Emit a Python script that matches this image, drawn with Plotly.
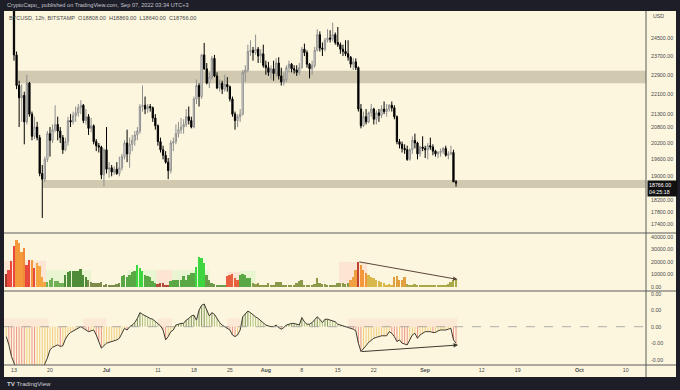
import plotly.graph_objects as go
import pandas as pd
import numpy as np

# ---------------- data (12h candles, BTCUSD Bitstamp) ----------------
# candle index i runs from -3 (2022-06-11 12:00) to 172 (2022-09-07 00:00)
first_candle = "2022-06-11 12:00"
n_candles = 176

opens = [
    28900, 28400, 27700,
    26600, 23750, 22450, 21950, 22050, 21000, 22550, 21300, 20450, 20800, 20400, 19100, 18900,
    19600, 20550, 20300, 20700, 20900, 20650, 20400, 19950, 20250, 21050, 21000, 21250, 21350,
    21550, 21650, 21050, 21200, 20750, 20850, 20250, 20100, 20050, 19050,
    19950, 19250, 19300, 19150, 19250, 19100, 19300, 19700, 20200, 19800,
    20150, 20300, 20500, 20650, 21600, 21650, 21500, 21600, 21550, 21150,
    20850, 20250, 19950, 19750, 19500, 19200, 20200, 20250, 20550, 20700,
    20800, 20900, 21200, 21050, 20800, 21900, 22450, 22000, 23750, 23150,
    22550, 22800, 23600, 22850, 22350, 22550, 22300, 22500, 22400, 21900,
    21300, 21050, 21200, 21300, 23000, 23100, 23900, 23950, 23850, 24000,
    23700, 23800, 23300, 23200, 23000, 23150, 22950, 23400, 22850, 22600,
    22700, 23200, 23350, 23150, 23100, 23000, 23200, 24000, 23850, 23350,
    23150, 23300, 23950, 24650, 24050, 24000, 24400, 24500, 24450, 24650,
    24300, 24200, 24000, 23900, 23800, 23650, 23350, 23450, 23200, 21500,
    20850, 21200, 21000, 21350, 21500, 21100, 21350, 21250, 21500, 21400,
    21500, 21650, 21550, 21200, 20250, 20150, 20000, 19950, 19600, 19950,
    20300, 20200, 19800, 20050, 20000, 19950, 20100, 20050, 19900, 19800,
    19850, 19900, 20000, 19750, 19800, 19850, 18808,
]
highs = [
    29000, 28550, 28000,
    26900, 23900, 22650, 22500, 22200, 22900, 22600, 21400, 21200, 21000, 20500, 19400, 19700,
    20650, 20800, 20900, 21650, 21200, 20800, 20500, 20400, 21200, 21300, 21400, 21600, 21700,
    21850, 21700, 21500, 21300, 21150, 20900, 20350, 20200, 20100, 20000,
    20800, 19500, 19400, 19350, 19500, 19700, 19800, 20300, 20700, 20400,
    20500, 20650, 20800, 21700, 22450, 22000, 21700, 21700, 21600, 21300,
    20900, 20400, 20100, 19900, 19650, 20300, 20400, 20900, 21000, 21150,
    21100, 21500, 21600, 21200, 22000, 22700, 22550, 23800, 24280, 23400,
    23000, 23700, 23750, 23000, 22700, 22650, 22900, 22800, 22450, 22000,
    21400, 21300, 21500, 23100, 23300, 24200, 24400, 24100, 24650, 24100,
    24000, 24200, 23500, 23450, 23300, 23500, 23600, 23650, 23200, 23000,
    23300, 23500, 23400, 23300, 23300, 23400, 24100, 24250, 23950, 23400,
    23500, 24100, 24900, 24800, 24300, 24500, 24900, 24850, 25200, 24750,
    25000, 24300, 24200, 24400, 24400, 23700, 23600, 23600, 23250, 21700,
    21400, 21500, 21400, 21700, 21550, 21450, 21500, 21650, 21800, 21700,
    21700, 21800, 21650, 21250, 20350, 20250, 20150, 20100, 20000, 20450,
    20550, 20250, 20100, 20450, 20100, 20200, 20400, 20150, 19950, 19900,
    20000, 20050, 20100, 19900, 20100, 19950, 18869,
]
lows = [
    28100, 27500, 26550,
    23500, 22300, 20800, 21000, 20150, 20900, 21200, 20300, 20350, 20300, 19000, 17600, 18800,
    19500, 19700, 20200, 20600, 20300, 20200, 19800, 19900, 20100, 20800, 20900, 21000, 21200,
    21300, 20950, 20900, 20500, 20600, 20150, 19900, 19850, 18900, 18650,
    19100, 18950, 19000, 19050, 19050, 19000, 19200, 19600, 19500, 19300,
    19900, 20100, 20300, 20550, 21400, 21300, 21350, 21400, 21000, 20700,
    20100, 19850, 19600, 19450, 18900, 19100, 19900, 20150, 20400, 20550,
    20550, 20800, 20900, 20750, 20750, 21700, 21600, 21900, 23100, 22500,
    22350, 22700, 22800, 22300, 22200, 22100, 22200, 22200, 21800, 21200,
    20700, 20800, 21000, 21250, 22600, 23000, 23700, 23500, 23750, 23400,
    23400, 23200, 22900, 22850, 22700, 22650, 22800, 22700, 22450, 22450,
    22600, 23000, 23000, 22950, 22850, 22900, 23150, 23700, 23200, 22750,
    22900, 23200, 23900, 23900, 23700, 23900, 24300, 24300, 24350, 24200,
    24100, 23800, 23700, 23700, 23500, 23200, 23100, 23100, 21400, 20750,
    20800, 20900, 20950, 21200, 20900, 20900, 21000, 21150, 21300, 21200,
    21400, 21400, 21100, 20150, 20000, 19850, 19800, 19550, 19550, 19800,
    20000, 19600, 19700, 19900, 19650, 19600, 19950, 19750, 19700, 19650,
    19700, 19800, 19700, 19600, 19750, 18800, 18640,
]
closes = [
    28400, 27700, 26600,
    23750, 22450, 21950, 22050, 21000, 22550, 21300, 20450, 20800, 20400, 19100, 18900, 19600,
    20550, 20300, 20700, 20900, 20650, 20400, 19950, 20250, 21050, 21000, 21250, 21350, 21550,
    21650, 21050, 21200, 20750, 20850, 20250, 20100, 20050, 19050, 19950,
    19250, 19300, 19150, 19250, 19100, 19300, 19700, 20200, 19800, 20150,
    20300, 20500, 20650, 21600, 21650, 21500, 21600, 21550, 21150, 20850,
    20250, 19950, 19750, 19500, 19200, 20200, 20250, 20550, 20700, 20800,
    20900, 21200, 21050, 20800, 21900, 22450, 22000, 23750, 23150, 22550,
    22800, 23600, 22850, 22350, 22550, 22300, 22500, 22400, 21900, 21300,
    21050, 21200, 21300, 23000, 23100, 23900, 23950, 23850, 24000, 23700,
    23800, 23300, 23200, 23000, 23150, 22950, 23400, 22850, 22600, 22700,
    23200, 23350, 23150, 23100, 23000, 23200, 24000, 23850, 23350, 23150,
    23300, 23950, 24650, 24050, 24000, 24400, 24500, 24450, 24650, 24300,
    24200, 24000, 23900, 23800, 23650, 23350, 23450, 23200, 21500, 20850,
    21200, 21000, 21350, 21500, 21100, 21350, 21250, 21500, 21400, 21500,
    21650, 21550, 21200, 20250, 20150, 20000, 19950, 19600, 19950, 20300,
    20200, 19800, 20050, 20000, 19950, 20100, 20050, 19900, 19800, 19850,
    19900, 20000, 19750, 19800, 19850, 18808, 18766,
]
volumes = [
    10600, 13600, 21000,
    33000, 38000, 35000, 28000, 31000, 18000, 22000, 22000, 15000, 19000, 17000, 8000, 4000,
    4000, 6000, 7000, 5000, 5000, 3000, 3000, 10000, 12000, 12500, 12500, 13000, 13000,
    14500, 10000, 8000, 5500, 4000, 3000, 3500, 3000, 4000, 2000,
    2500, 2000, 1500, 2000, 2500, 3000, 9000, 10000, 8000, 10000,
    12000, 13000, 18000, 15500, 13000, 10000, 9000, 8000, 5000, 3000,
    2500, 3500, 3500, 2000, 1500, 5000, 6000, 6000, 5500, 6000,
    8500, 6000, 10000, 11000, 11000, 16000, 24000, 23000, 19000, 10000,
    5500, 3000, 2500, 2000, 1500, 2000, 1000, 9000, 10000, 10500,
    7000, 5500, 10000, 10500, 10000, 7000, 7000, 3500, 2500, 3000,
    1500, 1500, 1000, 3000, 1000, 1500, 4000, 4000, 4000, 1000,
    1000, 1500, 1500, 2000, 3000, 5000, 6000, 2000, 2000, 2000,
    2000, 2500, 7000, 3000, 2500, 2500, 2000, 1500, 1500, 2000,
    3000, 3000, 3200, 2500, 3500, 5600, 8000, 13600, 20000, 17500,
    14000, 11000, 9600, 7700, 7000, 5600, 4500, 4000, 3000, 2000,
    2500, 2000, 8000, 8500, 6000, 6000, 8000, 2500, 2000, 2000,
    2500, 1500, 2000, 1000, 1500, 1000, 1500, 1500, 1500, 2000,
    1500, 1500, 2000, 2500, 4000, 5600, 6000,
]
# oscillator, in thousandths
osc_milli = [
    -1.2, -2.2, -3.6,
    -4.5, -5.5, -6.5, -7.0, -7.5, -7.5, -6.5, -6.8, -7.0, -6.5, -6.5, -6.0, -4.5,
    -3.8, -2.8, -2.5, -2.3, -2.2, -2.4, -2.3, -1.5, -1.0, -0.7, -0.5, -0.3, -0.1,
    0.0, -0.2, -0.4, -0.6, -0.5, -0.4, -1.0, -1.8, -2.6, -2.3,
    -2.0, -1.9, -1.8, -1.7, -1.6, -1.4, -0.8, -0.2, -0.4, 0.0,
    0.2, 0.5, 1.0, 1.7, 1.5, 1.3, 1.1, 1.0, 0.9, 0.6,
    0.3, 0.1, -0.4, -1.6, -1.2, -0.6, -0.4, 0.2, 0.3, 0.4,
    0.4, 0.8, 1.0, 1.3, 1.4, 0.8, 2.0, 2.6, 2.75, 2.0,
    1.3, 1.7, 1.5, 1.0, 0.5, 0.2, 0.0, -0.2, -0.4, -1.0,
    -1.2, -1.0, -0.4, 1.2, 1.6, 1.9, 1.7, 1.4, 1.2, 1.0,
    0.7, 0.4, 0.2, 0.1, 0.0, 0.0, 0.2, -0.1, -0.3, -0.1,
    0.2, 0.3, 0.4, 0.4, 0.3, 0.2, 1.1, 0.6, 0.3, 0.3,
    0.5, 0.8, 1.2, 0.9, 0.5, 0.9, 0.9, 0.8, 0.7, 0.6,
    0.3, 0.2, 0.1, 0.0, -0.1, -0.2, -0.3, -0.5, -2.0, -3.0,
    -2.7, -2.3, -1.9, -1.6, -1.4, -1.3, -1.2, -1.1, -1.1, -1.1,
    -0.6, -0.8, -1.2, -1.8, -1.6, -2.0, -2.1, -2.2, -1.6, -1.0,
    -0.8, -1.4, -1.0, -0.8, -0.6, -0.6, -0.6, -0.7, -0.7, -0.5,
    -0.4, -0.4, -0.4, -0.3, -0.2, -1.6, -2.0,
]
price_ticks = [24500, 23700, 22900, 22100, 21300, 20800, 20200, 19600, 19000, 18200, 17800, 17400]
vol_ticks = [0, 10000, 20000, 30000, 40000]
osc_ticks = [0.004, 0.002, 0.0, -0.002, -0.004]
osc_tick_text = ["0.00", "0.00", "0.00", "-0.00", "-0.00"]
time_ticks = ["2022-06-13", "2022-06-20", "2022-07-01", "2022-07-11", "2022-07-18", "2022-07-25",
              "2022-08-01", "2022-08-08", "2022-08-15", "2022-08-22", "2022-09-01", "2022-09-12",
              "2022-09-19", "2022-10-01", "2022-10-10"]
time_tick_text = ["13", "20", "<b>Jul</b>", "11", "18", "25", "<b>Aug</b>", "8", "15", "22",
                  "<b>Sep</b>", "12", "19", "<b>Oct</b>", "10"]
upper_zone = (22545, 23070)
lower_zone = (18600, 18870)
last_price = 18766

# ---------------- styling ----------------
CREAM = "#fcf6df"
DARK = "#1d1e27"
vol_color_segments = [(-3, -3, "#a5372b"), (-2, 0, "#e8493d"), (1, 3, "#f4983b"), (4, 4, "#f08a38"),
                      (5, 6, "#e8493d"), (7, 7, "#f4983b"), (8, 8, "#e8493d"), (9, 12, "#f4a640"),
                      (13, 19, "#72b055"), (20, 28, "#4e8c3a"), (29, 41, "#7d8c4c"), (42, 47, "#5aa845"),
                      (48, 50, "#3ed63e"), (51, 55, "#5aa845"), (56, 60, "#b24a3a"), (61, 70, "#5aa845"),
                      (71, 74, "#3ed63e"), (75, 82, "#6a9a4a"), (83, 87, "#e8603d"), (88, 92, "#5aa845"),
                      (93, 130, "#8a9a4a"), (131, 133, "#f0a040"), (134, 134, "#c4402f"),
                      (135, 137, "#f4983b"), (138, 147, "#d8b84a"), (148, 152, "#e0a040"),
                      (153, 172, "#a8a848")]
vol_bg = [(-4, 12.5, 21000, "rgba(255,140,150,0.16)"), (12.5, 30, 13500, "rgba(120,240,120,0.14)"),
          (44, 55.5, 13500, "rgba(120,240,120,0.14)"), (55.5, 61.5, 13500, "rgba(255,140,150,0.16)"),
          (61.5, 76, 13500, "rgba(120,240,120,0.14)"), (83, 88, 12000, "rgba(255,140,150,0.16)"),
          (88, 94, 13000, "rgba(120,240,120,0.14)"), (126.5, 137.5, 20000, "rgba(255,140,150,0.16)")]
osc_bg = [(-4, 13.5), (27, 36), (56, 61.5), (83, 88), (130, 172.5)]

dates = pd.date_range(first_candle, periods=n_candles, freq="12h")
t0 = pd.Timestamp("2022-06-13 00:00")


def t(i):
    return t0 + pd.Timedelta(hours=12 * i)


idx = list(range(-3, 173))
vol_colors = []
for i in idx:
    c = "#8a9a4a"
    for a, b, col in vol_color_segments:
        if a <= i <= b:
            c = col
    vol_colors.append(c)

osc = np.array(osc_milli) * 1e-3

# plot geometry (pixels)
W, H = 680, 390
L, R, T, B = 4, 34, 11, 25
PW, PH = W - L - R, H - T - B
def py(pix):  # pixel y -> paper y
    return (H - B - pix) / PH
def px(pix):
    return (pix - L) / PW

main_dom = [py(233), 1.0]
vol_dom = [py(291), py(233)]
osc_dom = [0.0, py(291)]

fig = go.Figure()

fig.add_trace(go.Candlestick(
    x=dates, open=opens, high=highs, low=lows, close=closes,
    xaxis="x", yaxis="y",
    increasing=dict(line=dict(color="#8e8e8e", width=1), fillcolor="#ffffff"),
    decreasing=dict(line=dict(color="#000000", width=1), fillcolor="#000000"),
    whiskerwidth=0, hoverinfo="skip", showlegend=False,
))

fig.add_trace(go.Bar(
    x=dates, y=volumes, marker=dict(color=vol_colors, line=dict(width=0)),
    width=12 * 3600 * 1000 * 0.72, xaxis="x", yaxis="y2", showlegend=False, hoverinfo="skip",
))

# oscillator histogram lines, coloured by sign and direction
groups = {"#ea7b70": ([], []), "#eec465": ([], []), "#5f7d33": ([], []), "#9cb864": ([], [])}
prev = osc[0]
for d, v in zip(dates, osc):
    if v < 0:
        col = "#ea7b70" if v < prev else "#eec465"
    else:
        col = "#5f7d33" if v >= prev else "#9cb864"
    gx, gy = groups[col]
    gx += [d, d, None]
    gy += [0, v, None]
    prev = v
for col, (gx, gy) in groups.items():
    fig.add_trace(go.Scatter(x=gx, y=gy, mode="lines", line=dict(color=col, width=0.8),
                             xaxis="x", yaxis="y3", showlegend=False, hoverinfo="skip"))

fig.add_trace(go.Scatter(x=dates, y=osc, mode="lines", line=dict(color="#3d3a30", width=1),
                         xaxis="x", yaxis="y3", showlegend=False, hoverinfo="skip"))

shapes = []
# support / resistance zones
shapes.append(dict(type="rect", xref="x", yref="y", x0=t(1.5), x1=t(260), y0=upper_zone[0], y1=upper_zone[1],
                   fillcolor="rgba(150,140,115,0.42)", line=dict(width=0), layer="below"))
shapes.append(dict(type="rect", xref="x", yref="y", x0=t(11.3), x1=t(260), y0=lower_zone[0], y1=lower_zone[1],
                   fillcolor="rgba(150,140,115,0.42)", line=dict(width=0), layer="below"))
for a, b, hgt, col in vol_bg:
    shapes.append(dict(type="rect", xref="x", yref="y2", x0=t(a), x1=t(b), y0=0, y1=hgt,
                       fillcolor=col, line=dict(width=0), layer="below"))
for a, b in osc_bg:
    shapes.append(dict(type="rect", xref="x", yref="y3", x0=t(a), x1=t(b), y0=0, y1=0.001,
                       fillcolor="rgba(255,140,150,0.12)", line=dict(width=0), layer="below"))
# osc zero line
shapes.append(dict(type="line", xref="paper", yref="y3", x0=0, x1=1, y0=0, y1=0,
                   line=dict(color="#9a9a9a", width=0.8, dash="dash")))
# pane separators and axis border
for yy in [py(233), py(291), py(365)]:
    shapes.append(dict(type="line", xref="paper", yref="paper", x0=0, x1=px(676), y0=yy, y1=yy,
                       line=dict(color="#5a5a5a", width=1)))
shapes.append(dict(type="line", xref="paper", yref="paper", x0=1, x1=1, y0=py(377), y1=1,
                   line=dict(color="#5a5a5a", width=1)))
# dark frame
shapes += [
    dict(type="rect", xref="paper", yref="paper", x0=px(-5), x1=px(690), y0=1, y1=py(-5),
         fillcolor=DARK, line=dict(width=0), layer="above"),
    dict(type="rect", xref="paper", yref="paper", x0=px(-5), x1=px(690), y0=py(377), y1=py(395),
         fillcolor=DARK, line=dict(width=0), layer="above"),
    dict(type="rect", xref="paper", yref="paper", x0=px(-5), x1=0, y0=py(395), y1=py(-5),
         fillcolor=DARK, line=dict(width=0), layer="above"),
    dict(type="rect", xref="paper", yref="paper", x0=px(676), x1=px(690), y0=py(395), y1=py(-5),
         fillcolor=DARK, line=dict(width=0), layer="above"),
]

FONT = "Liberation Sans, Arial, sans-serif"
annotations = [
    dict(xref="paper", yref="paper", x=px(5), y=py(5.5), xanchor="left", yanchor="middle", showarrow=False,
         text="CryptoCapo_ published on TradingView.com, Sep 07, 2022 03:34 UTC+3",
         font=dict(size=5.6, color="#c4c6cf", family=FONT)),
    dict(xref="paper", yref="paper", x=px(7), y=py(17.5), xanchor="left", yanchor="middle", showarrow=False,
         text="BTCUSD, 12h, BITSTAMP  O18808.00  H18869.00  L18640.00  C18766.00",
         font=dict(size=5.6, color="#4a4a4a", family=FONT)),
    dict(xref="paper", yref="paper", x=px(651), y=py(16), xanchor="left", yanchor="middle", showarrow=False,
         text="USD", font=dict(size=5.3, color="#4a4a4a", family=FONT)),
    dict(xref="paper", yref="paper", x=px(647), y=py(180), xanchor="left", yanchor="top", showarrow=False,
         text="18766.00<br>04:25:18", align="left", bgcolor="#111111", borderpad=1, width=27,
         font=dict(size=5.3, color="#ffffff", family=FONT)),
    dict(xref="paper", yref="paper", x=px(5), y=py(383.5), xanchor="left", yanchor="middle", showarrow=False,
         text="<b>TV</b> TradingView", font=dict(size=6.2, color="#d0d1d8", family=FONT)),
    # drawn trend lines
    dict(xref="x", yref="y2", axref="x", ayref="y2", x=t(172.6), y=6100, ax=t(133.8), ay=20300,
         text="", showarrow=True, arrowhead=2, arrowsize=0.9, arrowwidth=1, arrowcolor="#5c4636"),
    dict(xref="x", yref="y3", axref="x", ayref="y3", x=t(172.8), y=-0.00222, ax=t(134.7), ay=-0.00303,
         text="", showarrow=True, arrowhead=2, arrowsize=0.9, arrowwidth=1, arrowcolor="#3d3a30"),
]

tickfont = dict(size=5.3, color="#4a4a4a", family=FONT)
fig.update_layout(
    width=W, height=H, margin=dict(l=L, r=R, t=T, b=B, autoexpand=False),
    paper_bgcolor=CREAM, plot_bgcolor=CREAM,
    showlegend=False, bargap=0, shapes=shapes, annotations=annotations,
    xaxis=dict(domain=[0, 1], anchor="y3", range=[t(-10 / 2.57), t(632 / 2.57)],
               tickvals=pd.to_datetime(time_ticks), ticktext=time_tick_text, tickfont=tickfont,
               showgrid=False, zeroline=False, showline=False, ticks="", rangeslider=dict(visible=False),
               ticklabelstandoff=1, automargin=False),
    yaxis=dict(domain=main_dom, anchor="x", type="log", side="right",
               range=[np.log10(24500 * np.exp(-195 / 544)), np.log10(24500 * np.exp(27 / 544))],
               tickvals=price_ticks, ticktext=[f"{v:.2f}" for v in price_ticks], tickfont=tickfont,
               showgrid=False, zeroline=False, showline=False, ticks="", ticklabelstandoff=4,
               automargin=False),
    yaxis2=dict(domain=vol_dom, anchor="x", side="right", range=[-3200, 43200],
                tickvals=vol_ticks, ticktext=[f"{v:.2f}" for v in vol_ticks], tickfont=tickfont,
                showgrid=False, zeroline=False, showline=False, ticks="", ticklabelstandoff=4,
                automargin=False),
    yaxis3=dict(domain=osc_dom, anchor="x", side="right", range=[-0.004642, 0.004327],
                tickvals=osc_ticks, ticktext=osc_tick_text, tickfont=tickfont,
                showgrid=False, zeroline=False, showline=False, ticks="", ticklabelstandoff=4,
                automargin=False),
)

fig.write_html("out.html", config={"displayModeBar": False},
               post_script="document.body.style.margin='0px';document.body.style.overflow='hidden';")
